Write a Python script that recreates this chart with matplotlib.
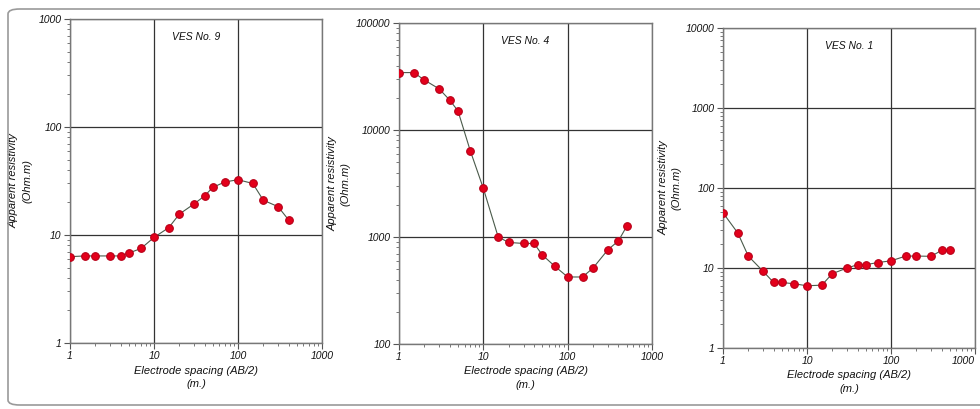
import numpy as np
import matplotlib
matplotlib.use("Agg")
from matplotlib import pyplot as plt
from matplotlib.patches import FancyBboxPatch
from matplotlib.ticker import LogLocator, NullFormatter, FixedLocator

plt.rcParams['font.family'] = ['Liberation Sans', 'DejaVu Sans']

# electrode spacing AB/2 (m)
ab2_9 = [1, 1.5, 2, 3, 4, 5, 7, 10, 15, 20, 30, 40, 50, 70, 100, 150, 200, 300, 400]
rho_9 = [6.3, 6.4, 6.4, 6.4, 6.4, 6.8, 7.5, 9.5, 11.7, 15.6, 19.4, 23, 27.6, 31, 32.5, 30, 21, 18.3, 13.8]

ab2_4 = [1, 1.5, 2, 3, 4, 5, 7, 10, 15, 20, 30, 40, 50, 70, 100, 150, 200, 300, 400, 500]
rho_4 = [34400, 34400, 29300, 24200, 19000, 15100, 6400, 2850, 1000, 890, 870, 870, 680,
         535, 423, 423, 513, 760, 920, 1255]

ab2_1 = [1, 1.5, 2, 3, 4, 5, 7, 10, 15, 20, 30, 40, 50, 70, 100, 150, 200, 300, 400, 500]
rho_1 = [49, 27.4, 14.1, 9.1, 6.6, 6.6, 6.35, 6.0, 6.1, 8.5, 10, 11, 11, 11.7, 12.3,
         14.1, 14.1, 14, 16.6, 16.6]

titles = ['VES No. 9', 'VES No. 4', 'VES No. 1']
ylims = [(1, 1000), (100, 100000), (1, 10000)]
xticks = [1, 10, 100, 1000]

fig = plt.figure(figsize=(9.8, 4.09), dpi=100)
W, H = 980.0, 409.0

# outer frame (runs off the right edge like the source)
frame = FancyBboxPatch((8 / W, 4 / H), 1020 / W, 396 / H,
                       boxstyle="round,pad=0,rounding_size=0.012",
                       transform=fig.transFigure, fill=False,
                       edgecolor='#9a9a9a', linewidth=1.2)
fig.patches.append(frame)

# axes boxes in pixels: left, top, right, bottom
boxes = [(70, 19, 322, 343), (399, 23, 652, 344), (723, 28, 975, 348)]
ylab_x = [-0.15, -0.19, -0.165]

data = [(ab2_9, rho_9), (ab2_4, rho_4), (ab2_1, rho_1)]

for i in range(3):
    l, t, r, b = boxes[i]
    ax = fig.add_axes([l / W, 1 - b / H, (r - l) / W, (b - t) / H])
    x, y = data[i]
    ax.plot(x, y, '-', color='#4a5a4a', lw=0.8, zorder=2)
    ax.plot(x, y, 'o', ms=5.5, color='#e3001b', mec='#b80018', mew=0.8, zorder=3)
    ax.set_xscale('log')
    ax.set_yscale('log')
    ax.set_xlim(1, 1000)
    ax.set_ylim(*ylims[i])
    ax.grid(True, which='major', color='#333333', lw=0.9)
    ax.set_axisbelow(True)

    ax.xaxis.set_major_locator(FixedLocator(xticks))
    ax.set_xticklabels([str(v) for v in xticks])
    ax.xaxis.set_minor_locator(LogLocator(base=10, subs=np.arange(2, 10)))
    ax.xaxis.set_minor_formatter(NullFormatter())
    lo, hi = ylims[i]
    yt = [10 ** k for k in range(int(np.log10(lo)), int(np.log10(hi)) + 1)]
    ax.yaxis.set_major_locator(FixedLocator(yt))
    ax.set_yticklabels([str(v) for v in yt])
    ax.yaxis.set_minor_locator(LogLocator(base=10, subs=np.arange(2, 10)))
    ax.yaxis.set_minor_formatter(NullFormatter())

    ax.tick_params(which='major', length=4, width=0.8, color='#555555', pad=2,
                   labelsize=7.5)
    ax.tick_params(which='minor', length=2.5, width=0.7, color='#777777')
    for lab in ax.get_xticklabels() + ax.get_yticklabels():
        lab.set_fontstyle('italic')
        lab.set_color('#111111')
    if i == 2:
        ax.get_xticklabels()[-1].set_horizontalalignment('right')
    for sp in ax.spines.values():
        sp.set_color('#777777')
        sp.set_linewidth(1.0)

    ax.text(0.5, 0.945, titles[i], transform=ax.transAxes, ha='center', va='center',
            fontsize=7.5, fontstyle='italic', color='#111111')
    ax.set_xlabel('Electrode spacing (AB/2)\n(m.)', fontsize=8, fontstyle='italic',
                  color='#111111', labelpad=3, linespacing=1.4)
    ax.set_ylabel('Apparent resistivity\n(Ohm.m)', fontsize=8, fontstyle='italic',
                  color='#111111', linespacing=1.4)
    ax.yaxis.set_label_coords(ylab_x[i], 0.5)

fig.savefig('out.png', dpi=100)
